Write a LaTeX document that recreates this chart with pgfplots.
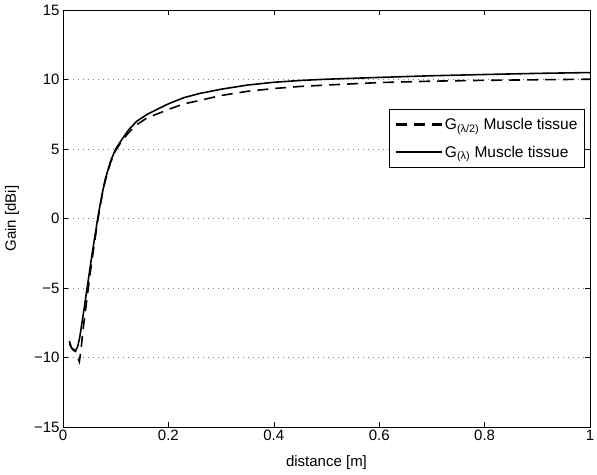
\documentclass[border=0pt]{standalone}
\usepackage{fontspec}
\setmainfont{Liberation Sans}
\usepackage{pgfplots}
\pgfplotsset{compat=1.18}
\begin{document}
\begin{tikzpicture}
\begin{axis}[
  scale only axis, width=527bp, height=417bp,
  xmin=0, xmax=1, ymin=-15, ymax=15,
  xtick={0,0.2,0.4,0.6,0.8,1}, xticklabels={0,0.2,0.4,0.6,0.8,1},
  ytick={-15,-10,-5,0,5,10,15}, yticklabels={−15,−10,−5,0,5,10,15},
  tick label style={font=\fontsize{15bp}{17bp}\selectfont},
  tick align=inside, major tick length=5bp,
  ymajorgrids, grid style={dash pattern=on 1bp off 4bp, gray, line width=0.6pt},
  axis line style={line width=0.6pt}, tick style={line width=0.5pt, black},
  xlabel={distance [m]}, ylabel={Gain [dBi]},
  every axis x label/.style={at={(rel axis cs:0.5,-0.0863)}, anchor=center,
    font=\fontsize{15bp}{17bp}\selectfont},
  every axis y label/.style={at={(rel axis cs:-0.0968,0.5)}, anchor=center, rotate=90,
    font=\fontsize{15bp}{17bp}\selectfont},
  legend style={at={(0.99,0.763)}, anchor=north east, draw=black, line width=0.6pt,
    font=\fontsize{15.5bp}{18bp}\selectfont, row sep=11bp, inner xsep=5bp, inner ysep=7bp,
    cells={anchor=west}},
  legend image post style={line width=2.4pt},
  legend image code/.code={\draw[#1] (0bp,0bp) -- (46bp,0bp);},
]
\addplot[black, line width=1.6pt, dash pattern=on 11bp off 7bp] coordinates {
(0.012,-9.0)(0.016,-9.3)(0.02,-9.4)(0.024,-9.6)(0.028,-10.0)(0.031,-10.3)(0.034,-9.5)
(0.038,-8.0)(0.042,-6.8)(0.046,-5.6)(0.05,-4.4)(0.055,-3.0)(0.06,-1.7)(0.065,-0.4)
(0.07,0.8)(0.075,1.8)(0.08,2.7)(0.09,4.0)(0.1,4.9)(0.112,5.6)(0.125,6.2)(0.14,6.75)
(0.16,7.25)(0.184,7.6)(0.2,7.85)(0.23,8.25)(0.26,8.5)(0.3,8.85)(0.35,9.15)(0.4,9.35)
(0.45,9.5)(0.5,9.6)(0.6,9.78)(0.7,9.88)(0.8,9.94)(0.9,9.98)(1.0,10.02)};
\addlegendentry{G\textsubscript{(λ/2)} Muscle tissue}
\addplot[black, line width=1.6pt] coordinates {
(0.012,-8.8)(0.016,-9.3)(0.02,-9.5)(0.024,-9.5)(0.028,-9.2)(0.032,-8.5)(0.036,-7.5)
(0.04,-6.5)(0.045,-5.2)(0.05,-3.9)(0.055,-2.6)(0.06,-1.4)(0.065,-0.2)(0.07,0.9)
(0.075,1.9)(0.08,2.8)(0.09,4.1)(0.1,5.0)(0.112,5.7)(0.125,6.4)(0.14,7.0)(0.16,7.5)
(0.184,7.95)(0.2,8.25)(0.23,8.7)(0.26,9.0)(0.3,9.3)(0.35,9.6)(0.4,9.8)(0.45,9.93)
(0.5,10.02)(0.6,10.15)(0.7,10.27)(0.8,10.36)(0.9,10.44)(1.0,10.5)};
\addlegendentry{G\textsubscript{(λ)} Muscle tissue}
\end{axis}
\pgfresetboundingbox
\path[use as bounding box] (-63bp,-48bp) rectangle (534bp,427bp);
\end{tikzpicture}
\end{document}
